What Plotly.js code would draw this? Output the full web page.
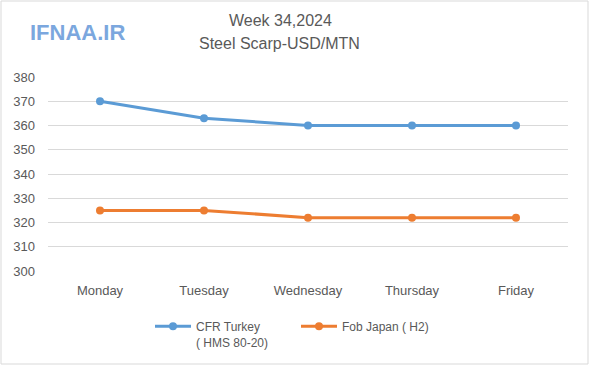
<!DOCTYPE html>
<html>
<head>
<meta charset="utf-8">
<script src="https://cdn.plot.ly/plotly-3.0.1.min.js"></script>
<style>
html,body{margin:0;padding:0;background:#fff;}
#chart{width:600px;height:367px;}
</style>
</head>
<body>
<div id="chart"></div>
<script>
const days = ["Monday", "Tuesday", "Wednesday", "Thursday", "Friday"];
const cfrTurkey = [370, 363, 360, 360, 360];
const fobJapan = [325, 325, 322, 322, 322];
const seriesNames = ["CFR Turkey<br>( HMS 80-20)", "Fob Japan ( H2)"];
const yTicks = [300, 310, 320, 330, 340, 350, 360, 370, 380];
const titleLines = ["Week 34,2024", "Steel Scarp-USD/MTN"];

const FONT = "Liberation Sans, Arial, sans-serif";
const traces = [
  {
    x: days, y: cfrTurkey, name: seriesNames[0], type: "scatter", mode: "lines+markers",
    line: {color: "#5B9BD5", width: 3}, marker: {color: "#5B9BD5", size: 8}
  },
  {
    x: days, y: fobJapan, name: seriesNames[1], type: "scatter", mode: "lines+markers",
    line: {color: "#ED7D31", width: 3}, marker: {color: "#ED7D31", size: 8}
  }
];

const layout = {
  width: 600, height: 367,
  margin: {l: 48, r: 32, t: 77, b: 96},
  paper_bgcolor: "#fff", plot_bgcolor: "#fff",
  font: {family: FONT, color: "#595959", size: 12},
  xaxis: {
    type: "category", showgrid: false, zeroline: false, automargin: false,
    showline: false, ticks: "", tickfont: {size: 13, color: "#595959"},
    ticklabelstandoff: 10, range: [-0.5, 4.5]
  },
  yaxis: {
    range: [300, 380], tickvals: yTicks, ticktext: yTicks.map(String), automargin: false,
    showgrid: true, gridcolor: "#D9D9D9", gridwidth: 1, zeroline: false,
    showline: false, ticks: "", ticklabelstandoff: 12,
    tickfont: {size: 13, color: "#595959"}
  },
  showlegend: true,
  legend: {
    orientation: "h", xref: "container", yref: "container",
    x: 150 / 600, xanchor: "left", y: 1 - 312 / 367, yanchor: "top",
    font: {size: 12, color: "#595959"}, itemwidth: 36, traceorder: "normal",
    entrywidth: 95, entrywidthmode: "pixels", valign: "top"
  },
  annotations: [
    {
      text: titleLines[0], xref: "paper", yref: "paper",
      x: (280 - 48) / 520, y: (271 - 21) / 194, xanchor: "center", yanchor: "middle",
      showarrow: false, font: {family: FONT, size: 16, color: "#595959"}
    },
    {
      text: titleLines[1], xref: "paper", yref: "paper",
      x: (279 - 48) / 520, y: (271 - 44) / 194, xanchor: "center", yanchor: "middle",
      showarrow: false, font: {family: FONT, size: 16, color: "#595959"}
    },
    {
      text: "<b>IFNAA.IR</b>", xref: "paper", yref: "paper",
      x: (77 - 48) / 520, y: (271 - 33) / 194, xanchor: "center", yanchor: "middle",
      showarrow: false, font: {family: FONT, size: 22, color: "#7BA7DE"}
    }
  ],
  shapes: [
    {
      type: "rect", xref: "paper", yref: "paper",
      x0: (1 - 48) / 520, x1: (588 - 48) / 520, y0: (271 - 364) / 194, y1: (271 - 1) / 194,
      line: {color: "#D9D9D9", width: 1}, fillcolor: "rgba(0,0,0,0)", layer: "below"
    }
  ]
};

Plotly.newPlot("chart", traces, layout, {displayModeBar: false, staticPlot: true});
</script>
</body>
</html>
